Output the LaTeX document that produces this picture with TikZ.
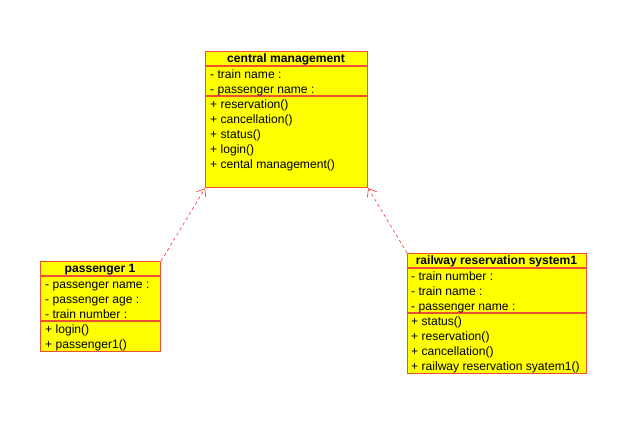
\documentclass[tikz,border=0pt]{standalone}
\usepackage{fontspec}
\setmainfont{Liberation Sans}
\usetikzlibrary{arrows.meta}
\definecolor{umlborder}{RGB}{240,80,50}
\definecolor{umlfill}{RGB}{255,255,0}
\definecolor{deparrow}{RGB}{250,50,50}
\tikzset{
  classbox/.style={draw=umlborder, fill=umlfill, line width=1.2pt, anchor=north west, inner sep=0pt},
  sepline/.style={draw=umlborder, line width=1.2pt},
  titletext/.style={font=\fontsize{12.1}{14}\selectfont\bfseries, anchor=base, inner sep=0pt},
  memtext/.style={font=\fontsize{12.1}{14}\selectfont, anchor=base west, inner sep=0pt},
  dep/.style={draw=deparrow, line width=0.6pt, dash pattern=on 3pt off 3pt, -{Straight Barb[length=7pt,width=11pt]}}
}
\begin{document}
\begin{tikzpicture}[x=1pt,y=-1pt]
\useasboundingbox (0,0) rectangle (644,432);
\fill[white] (0,0) rectangle (644,432);
% central management
\node[classbox, minimum width=162pt, minimum height=136pt] (cm) at (205,51) {};
\draw[sepline] (205,66) -- (367,66);
\draw[sepline] (205,96) -- (367,96);
\node[titletext] (cmt) at (286,62.5) {central management};
\node[memtext] (cma1) at (210,78) {- train name :};
\node[memtext] (cma2) at (210,93) {- passenger name :};
\node[memtext] (cmm1) at (210,108) {+ reservation()};
\node[memtext] (cmm2) at (210,123) {+ cancellation()};
\node[memtext] (cmm3) at (210,138) {+ status()};
\node[memtext] (cmm4) at (210,153) {+ login()};
\node[memtext] (cmm5) at (210,168) {+ cental management()};
% passenger 1
\node[classbox, minimum width=120pt, minimum height=90pt] (p1) at (40,261) {};
\draw[sepline] (40,276) -- (160,276);
\draw[sepline] (40,321) -- (160,321);
\node[titletext] (p1t) at (100,272.5) {passenger 1};
\node[memtext] (p1a1) at (45,288) {- passenger name :};
\node[memtext] (p1a2) at (45,303) {- passenger age :};
\node[memtext] (p1a3) at (45,318) {- train number :};
\node[memtext] (p1m1) at (45,333) {+ login()};
\node[memtext] (p1m2) at (45,348) {+ passenger1()};
% railway reservation system1
\node[classbox, minimum width=179pt, minimum height=120pt] (rr) at (407,253) {};
\draw[sepline] (407,268) -- (586,268);
\draw[sepline] (407,313) -- (586,313);
\node[titletext] (rrt) at (496.5,264.5) {railway reservation system1};
\node[memtext] (rra1) at (411,280) {- train number :};
\node[memtext] (rra2) at (411,295) {- train name :};
\node[memtext] (rra3) at (411,310) {- passenger name :};
\node[memtext] (rrm1) at (411,325) {+ status()};
\node[memtext] (rrm2) at (411,340) {+ reservation()};
\node[memtext] (rrm3) at (411,355) {+ cancellation()};
\node[memtext] (rrm4) at (411,370) {+ railway reservation syatem1()};
% dependencies
\draw[dep] (p1.north east) -- (cm.south west);
\draw[dep] (rr.north west) -- (cm.south east);
\end{tikzpicture}
\end{document}
